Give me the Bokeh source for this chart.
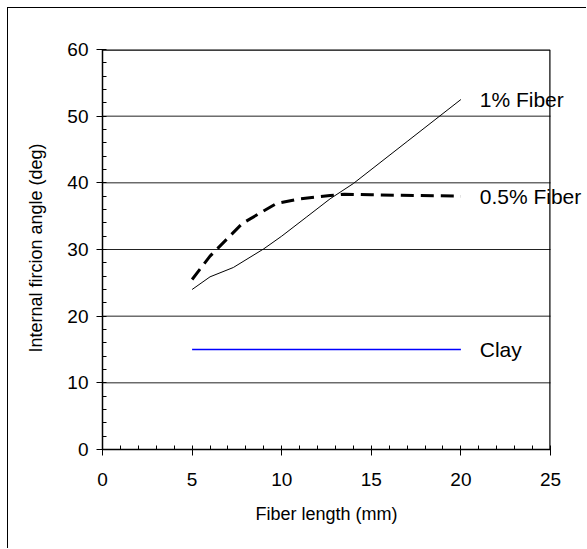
from bokeh.plotting import figure
from bokeh.models import Range1d, SingleIntervalTicker, Label, Title
from bokeh.embed import file_html
from bokeh.resources import INLINE

# Data
fiber_1_x = [5, 6, 7.3, 9, 10, 11.4, 12.7, 14, 17, 20]
fiber_1_y = [24.0, 25.9, 27.3, 30.1, 32.0, 34.9, 37.6, 39.9, 46.2, 52.5]

fiber_05_x = [5, 6, 7.8, 9.7, 11, 12.7, 13.5, 15, 17.5, 20]
fiber_05_y = [25.5, 29.0, 33.9, 36.9, 37.6, 38.1, 38.3, 38.2, 38.1, 38.0]

clay_x = [5, 20]
clay_y = [15, 15]

series_labels = ["1% Fiber", "0.5% Fiber", "Clay"]

x_max = 25
y_max = 60
y_grid_ticks = [10, 20, 30, 40, 50]

FONT = "Liberation Sans"

# layout (pixels)
W, H = 579, 541
BL, BR, BT, BB = 94, 1, 38, 100
PLOT_W, PLOT_H = 448, 400          # pixel size of the 0..25 x 0..60 area
frame_w = W - BL - BR
frame_h = H - BT - BB
x_per_px = x_max / PLOT_W
y_per_px = y_max / PLOT_H

p = figure(width=W, height=H, output_backend="svg", toolbar_location=None,
           x_range=Range1d(0, x_per_px * frame_w),
           y_range=Range1d(0, y_per_px * frame_h),
           min_border_left=BL, min_border_right=BR, min_border_top=BT, min_border_bottom=BB)
p.styles = {"border-left": "1px solid black", "border-top": "1px solid black",
            "margin-left": "7px", "margin-top": "7px"}

p.outline_line_color = None
p.xgrid.visible = False
p.ygrid.visible = False

p.xaxis.ticker = SingleIntervalTicker(interval=5, num_minor_ticks=5)
p.yaxis.ticker = SingleIntervalTicker(interval=10, num_minor_ticks=5)
p.xaxis.bounds = (0, x_max)
p.yaxis.bounds = (0, y_max)

for ax in (p.xaxis[0], p.yaxis[0]):
    ax.axis_line_color = "black"
    ax.axis_line_width = 1.5
    ax.major_tick_line_color = "black"
    ax.minor_tick_line_color = "black"
    ax.major_tick_in = 3
    ax.major_tick_out = 6
    ax.minor_tick_in = 4
    ax.minor_tick_out = 0
    ax.major_label_text_font = FONT
    ax.major_label_text_font_size = "19px"
    ax.major_label_text_color = "black"
    ax.axis_label_text_font = FONT
    ax.axis_label_text_font_size = "18px"
    ax.axis_label_text_font_style = "normal"
    ax.axis_label_text_color = "black"

p.yaxis.axis_label = "Internal fircion angle (deg)"
p.xaxis.major_label_standoff = 17
p.yaxis.major_label_standoff = 8
p.yaxis.axis_label_standoff = 18

# x-axis title, centred under the 0..25 part of the frame
p.add_layout(Title(text="Fiber length (mm)", align="left", offset=153, standoff=27,
                   text_font=FONT, text_font_size="18px", text_font_style="normal",
                   text_color="black"), "below")

# horizontal gridlines
p.segment(x0=0, x1=x_max, y0=y_grid_ticks, y1=y_grid_ticks,
          line_color="#222222", line_width=1)
# plot-area border (top and right), drawn half a pixel inside the 0..25 x 0..60 box
top_y = y_max - 0.6 * y_per_px
right_x = x_max - 0.6 * x_per_px
p.line(x=[0, right_x, right_x], y=[top_y, top_y, 0], line_color="black", line_width=1.2)

p.line(fiber_1_x, fiber_1_y, line_color="black", line_width=1)
p.line(fiber_05_x, fiber_05_y, line_color="black", line_width=3, line_dash="13 7")
p.line(clay_x, clay_y, line_color="#0000FF", line_width=1.3)

ends = [(fiber_1_x[-1], fiber_1_y[-1]), (fiber_05_x[-1], fiber_05_y[-1]), (clay_x[-1], clay_y[-1])]
for (ex, ey), txt in zip(ends, series_labels):
    p.add_layout(Label(x=ex + 1.05, y=ey, text=txt, text_font=FONT,
                       text_font_size="21px", text_baseline="middle", text_align="left",
                       text_color="black"))

open("out.html", "w").write(file_html(p, INLINE))
